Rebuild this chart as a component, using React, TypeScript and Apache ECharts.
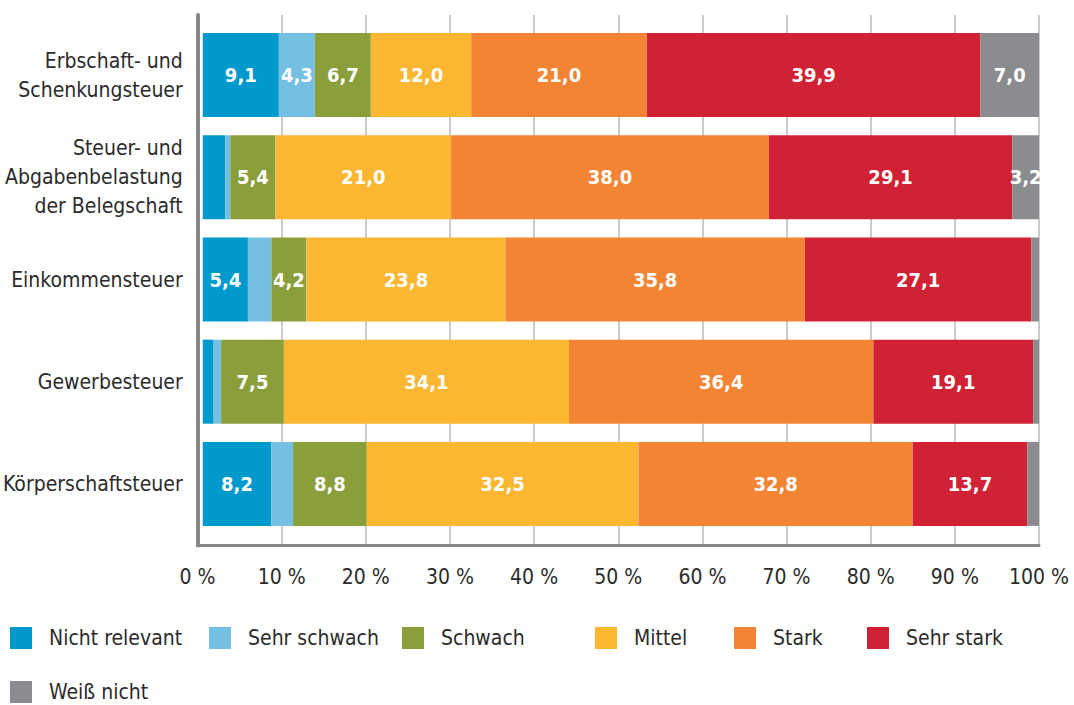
import React, { useEffect, useRef } from "react";
import * as echarts from "echarts";

const categories = [
  "Erbschaft- und\nSchenkungsteuer",
  "Steuer- und\nAbgabenbelastung\nder Belegschaft",
  "Einkommensteuer",
  "Gewerbesteuer",
  "Körperschaftsteuer",
];
const seriesNames = ["Nicht relevant", "Sehr schwach", "Schwach", "Mittel", "Stark", "Sehr stark", "Weiß nicht"];
const nichtRelevant = [9.1, 2.7, 5.4, 1.3, 8.2];
const sehrSchwach = [4.3, 0.6, 2.8, 0.9, 2.6];
const schwach = [6.7, 5.4, 4.2, 7.5, 8.8];
const mittel = [12.0, 21.0, 23.8, 34.1, 32.5];
const stark = [21.0, 38.0, 35.8, 36.4, 32.8];
const sehrStark = [39.9, 29.1, 27.1, 19.1, 13.7];
const weissNicht = [7.0, 3.2, 0.9, 0.7, 1.4];
const xTicks = [0, 10, 20, 30, 40, 50, 60, 70, 80, 90, 100];

const seriesValues = [nichtRelevant, sehrSchwach, schwach, mittel, stark, sehrStark, weissNicht];
const colors = ["#0099cc", "#74c0e2", "#8a9f3b", "#fbb632", "#f38434", "#d02234", "#8b8c8f"];

const FONT = "'Liberation Sans Narrow', 'DejaVu Sans Condensed', 'Roboto', sans-serif";
const TEXT = "#2b2b2b";

const legendPos = [
  [10, 627],
  [209, 627],
  [402, 627],
  [595, 627],
  [734, 627],
  [867, 627],
  [10, 681],
];

export default function App() {
  const ref = useRef<HTMLDivElement>(null);
  useEffect(() => {
    if (!ref.current) return;
    const chart = echarts.init(ref.current, null, { renderer: "svg" });
    const option: any = {
      animation: false,
      color: colors,
      textStyle: { fontFamily: FONT },
      grid: [
        { left: 197.5, right: 35, top: 24, bottom: 170 },
        { left: 197.5, right: 35, top: 15, bottom: 159.5 },
      ],
      xAxis: [
        { type: "value", gridIndex: 0, min: 0, max: 100, show: false },
        {
          type: "value",
          gridIndex: 1,
          min: 0,
          max: 100,
          interval: 10,
          axisLine: { show: true, lineStyle: { color: "#86878a", width: 3 } },
          axisTick: { show: false },
          splitLine: { show: true, lineStyle: { color: "#cbcbcb", width: 2 } },
          axisLabel: {
            margin: 21,
            fontSize: 21,
            color: TEXT,
            fontFamily: FONT,
            formatter: (v: number) => (xTicks.includes(v) ? `${v} %` : ""),
          },
        },
      ],
      yAxis: [
        {
          type: "category",
          gridIndex: 0,
          inverse: true,
          data: categories,
          axisLine: { show: false },
          axisTick: { show: false },
          axisLabel: {
            margin: 20,
            fontSize: 21,
            lineHeight: 29,
            color: TEXT,
            fontFamily: FONT,
            align: "right",
          },
        },
        {
          type: "value",
          gridIndex: 1,
          min: 0,
          max: 1,
          z: 10,
          axisLine: { show: true, lineStyle: { color: "#86878a", width: 4 } },
          axisTick: { show: false },
          axisLabel: { show: false },
          splitLine: { show: false },
        },
      ],
      legend: seriesNames.map((name, i) => ({
        data: [name],
        left: legendPos[i][0],
        top: legendPos[i][1],
        itemWidth: 22,
        itemHeight: 22,
        icon: "rect",
        padding: 0,
        selectedMode: false,
        textStyle: { fontSize: 21, color: TEXT, fontFamily: FONT, padding: [0, 0, 0, 12] },
      })),
      series: seriesNames.map((name, i) => ({
        name,
        type: "bar",
        stack: "total",
        xAxisIndex: 0,
        yAxisIndex: 0,
        barWidth: 84,
        data: seriesValues[i],
        itemStyle: { color: colors[i] },
        label: {
          show: true,
          position: "inside",
          color: "#ffffff",
          fontSize: 20,
          fontWeight: "bold",
          fontFamily: FONT,
          formatter: (p: any) => (p.value >= 3 ? Number(p.value).toFixed(1).replace(".", ",") : ""),
        },
      })),
    };
    chart.setOption(option);
    return () => chart.dispose();
  }, []);
  return <div ref={ref} style={{ position: "fixed", left: 0, top: 0, width: 1074, height: 705, background: "#fff" }} />;
}
